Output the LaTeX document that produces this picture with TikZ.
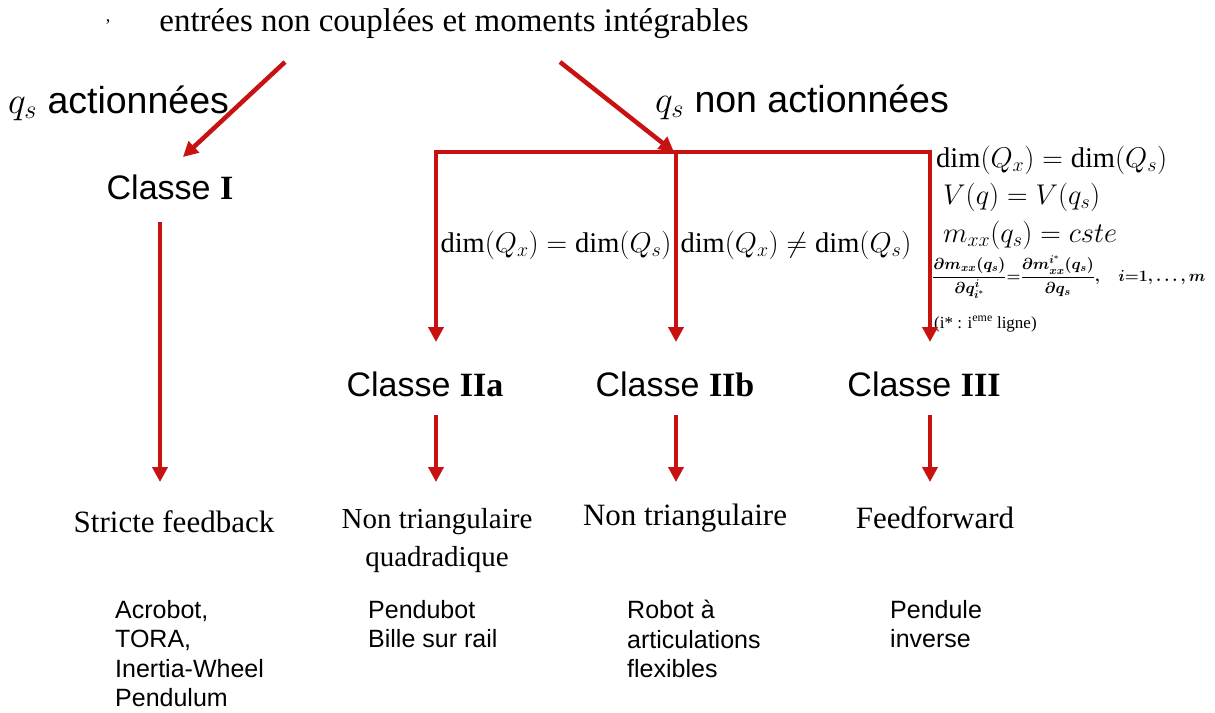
\RequirePackage{fix-cm}
\documentclass[tikz,border=0pt]{standalone}
\usepackage{fontspec}
\usepackage{amsmath,amssymb}
\setmainfont{Liberation Serif}
\setsansfont{Liberation Sans}
\usetikzlibrary{arrows.meta}
\definecolor{arrred}{RGB}{200,18,18}
\newsavebox{\fracbox}
\tikzset{
  conn/.style={draw=arrred, line width=4.5pt, line join=miter},
  arr/.style={conn, -{Triangle[length=15pt,width=15pt]}},
  serif/.style={font=\fontsize{31}{36}\selectfont\rmfamily, inner sep=0pt},
  sans/.style={font=\fontsize{34}{40}\selectfont\sffamily, inner sep=0pt},
  bigsans/.style={font=\fontsize{37.5}{44}\selectfont\sffamily, inner sep=0pt},
  example/.style={font=\fontsize{25}{29.5}\selectfont\sffamily, inner sep=0pt, align=left, anchor=north west},
  cond/.style={font=\fontsize{28.5}{32}\selectfont, inner sep=0pt},
}
\begin{document}
\sbox{\fracbox}{\fontsize{16}{18}\selectfont\boldmath$\dfrac{\partial m_{xx}(q_s)}{\partial q^{i}_{i^{*}}}{=}\dfrac{\partial m^{i^{*}}_{xx}(q_s)}{\partial q_s},\;\;\; i{=}1,\ldots,m$}%
\begin{tikzpicture}[x=1pt,y=-1pt]
\useasboundingbox[fill=white] (0,0) rectangle (1215,712);
% title
\node[serif, font=\fontsize{33}{38}\selectfont\rmfamily] (title) at (454,24) {entrées non couplées et moments intégrables};
\node[serif, font=\fontsize{18}{20}\selectfont\rmfamily] (comma) at (108,22) {,};
% branch labels
\node[bigsans, anchor=west] (qa) at (8,103) {$q_s$ actionnées};
\node[bigsans, anchor=west] (qna) at (655,102) {$q_s$ non actionnées};
% classes
\node[sans] (c1) at (170,187) {Classe $\mathbf{I}$};
\node[sans] (c2a) at (425,384) {Classe $\mathbf{IIa}$};
\node[sans] (c2b) at (675,384) {Classe $\mathbf{IIb}$};
\node[sans] (c3) at (924,384) {Classe $\mathbf{III}$};
% conditions
\node[cond] (eq) at (556,245) {$\dim(Q_x)=\dim(Q_s)$};
\node[cond] (neq) at (796,245) {$\dim(Q_x)\neq\dim(Q_s)$};
\node[cond, anchor=west] (r1) at (936,160) {$\dim(Q_x)=\dim(Q_s)$};
\node[cond, anchor=west] (r2) at (943,197) {$V(q)=V(q_s)$};
\node[cond, anchor=west] (r3) at (943,235) {$m_{xx}(q_s)=cste$};
\node[inner sep=0pt, anchor=west] (r4) at (932,277) {\usebox{\fracbox}};
\node[inner sep=0pt, anchor=west, font=\fontsize{17}{20}\selectfont\rmfamily] (r5) at (934,324) {(i* : i\textsuperscript{eme} ligne)};
% forms
\node[serif] (sf) at (174,522) {Stricte feedback};
\node[serif, align=center, font=\fontsize{29}{38}\selectfont\rmfamily] (nt2) at (437,541) {Non triangulaire\\quadradique};
\node[serif] (nt) at (685,518) {Non triangulaire};
\node[serif] (ff) at (935,518) {Feedforward};
% examples
\node[example] (e1) at (115,600) {Acrobot,\\TORA,\\Inertia-Wheel\\Pendulum};
\node[example] (e2) at (368,600) {Pendubot\\Bille sur rail};
\node[example] (e3) at (627,600) {Robot à\\articulations\\flexibles};
\node[example] (e4) at (890,600) {Pendule\\inverse};
% connector coordinates
\coordinate (a1s) at (285,62);
\coordinate (a1e) at (183,157);
\coordinate (a2s) at (560,62);
\coordinate (J) at (674,152);
\coordinate (L) at (436,152);
\coordinate (R) at (930,152);
\coordinate (tA) at (436,342);
\coordinate (tB) at (676,342);
\coordinate (tC) at (930,342);
\coordinate (s1) at (160,222);
\coordinate (t1) at (160,482);
\coordinate (sA) at (436,415);
\coordinate (eA) at (436,482);
\coordinate (sB) at (676,415);
\coordinate (eB) at (676,482);
\coordinate (sC) at (930,415);
\coordinate (eC) at (930,482);
% connectors
\draw[arr] (a1s) -- (a1e);
\draw[arr] (a2s) -- (J);
\draw[conn, {Triangle[length=15pt,width=15pt]}-{Triangle[length=15pt,width=15pt]}] (tA) -- (L) -- (R) -- (tC);
\draw[arr] (J -| tB) -- (tB);
\draw[arr] (s1) -- (t1);
\draw[arr] (sA) -- (eA);
\draw[arr] (sB) -- (eB);
\draw[arr] (sC) -- (eC);
\end{tikzpicture}
\end{document}
